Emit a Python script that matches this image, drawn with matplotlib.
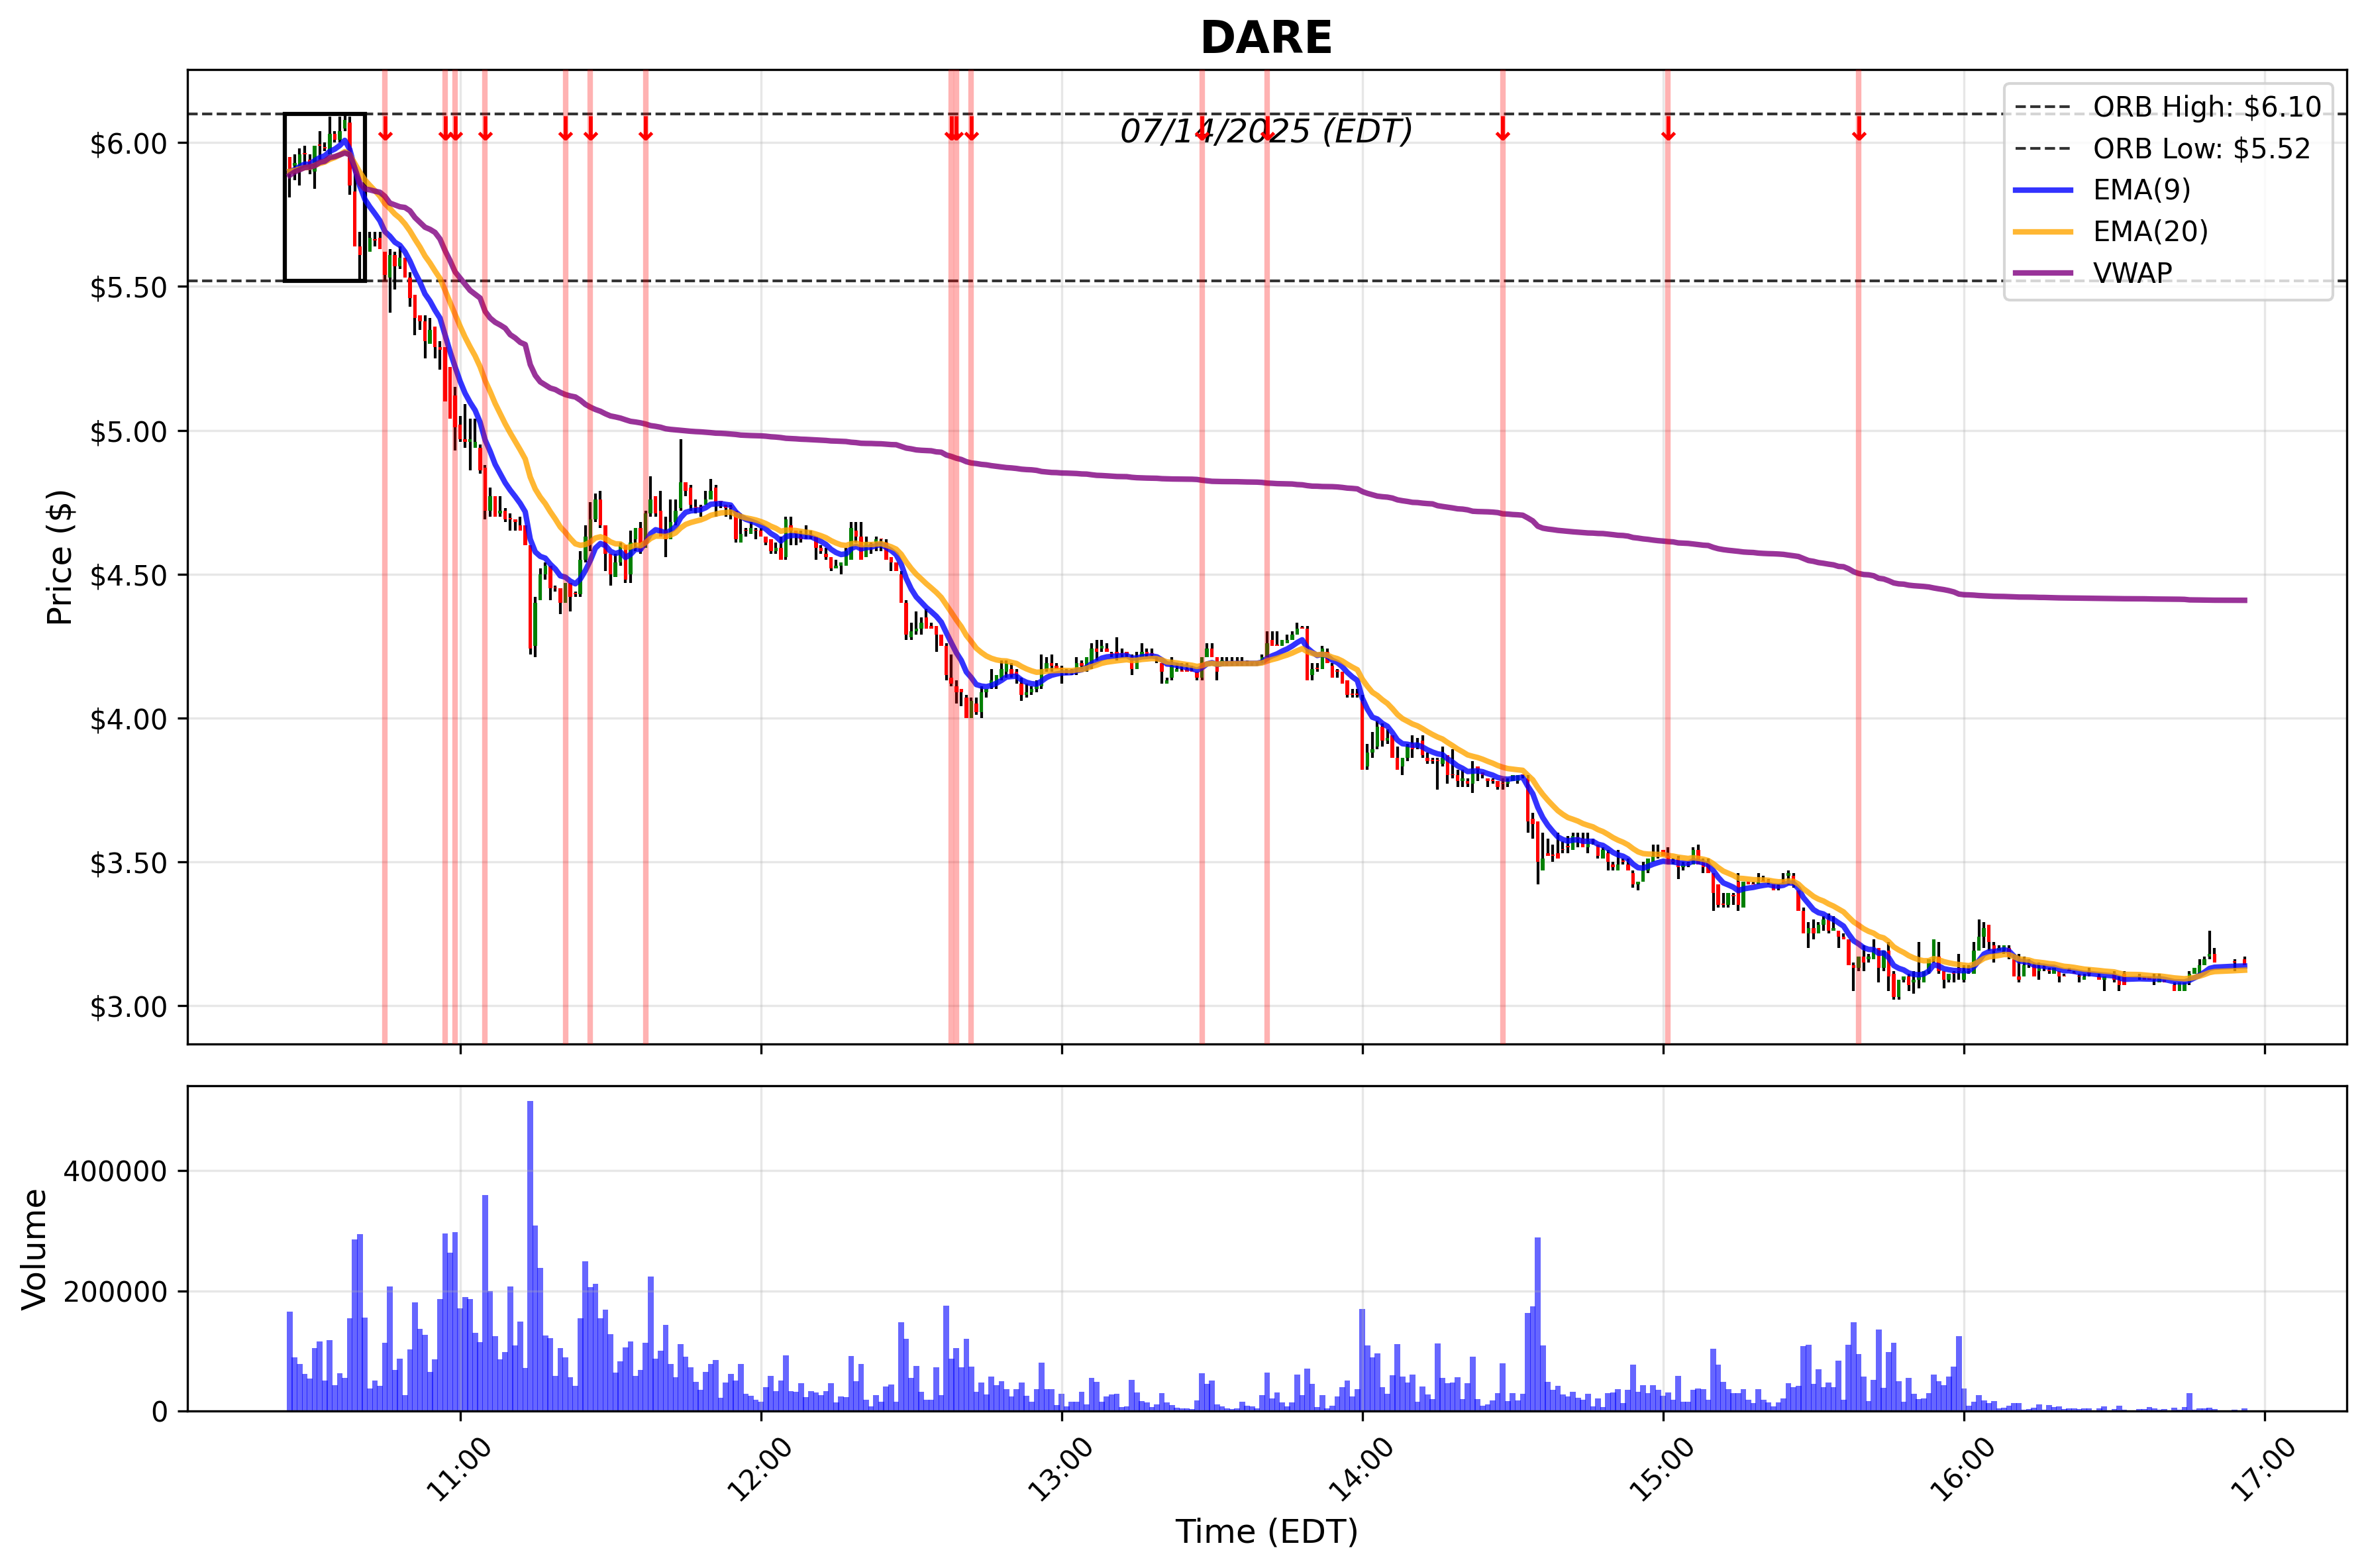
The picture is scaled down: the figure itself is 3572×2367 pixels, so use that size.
import matplotlib
matplotlib.use("Agg")
import matplotlib.pyplot as plt
import matplotlib.dates as mdates
from matplotlib.ticker import FuncFormatter, MultipleLocator
from matplotlib.patches import Rectangle
import numpy as np
import pandas as pd

# 1-minute bars, 07/14/2025, 10:26 -> 16:56 (a few quiet minutes near the close have no trades)
session = pd.date_range("2025-07-14 10:26", "2025-07-14 16:56", freq="min")
no_trade = ["16:26", "16:29", "16:33", "16:34", "16:41", "16:51", "16:52", "16:53", "16:55"]
times = session[~session.strftime("%H:%M").isin(no_trade)]

opens = [
    5.95, 5.92, 5.91, 5.96, 5.94, 5.90, 5.99, 5.98, 5.96, 6.03,
    6.01, 6.05, 6.07, 5.83, 5.64, 5.61, 5.62, 5.66, 5.67, 5.62,
    5.53, 5.61, 5.57, 5.60, 5.53, 5.47, 5.40, 5.38, 5.30, 5.36,
    5.29, 5.29, 5.22, 5.12, 5.02, 4.97, 4.96, 4.94, 4.94, 4.87,
    4.72, 4.77, 4.71, 4.72, 4.69, 4.69, 4.67, 4.67, 4.60, 4.25,
    4.41, 4.50, 4.53, 4.45, 4.45, 4.40, 4.47, 4.43, 4.43, 4.55,
    4.62, 4.69, 4.76, 4.67, 4.57, 4.49, 4.54, 4.60, 4.50, 4.62,
    4.66, 4.59, 4.71, 4.77, 4.72, 4.65, 4.62, 4.68, 4.73, 4.82,
    4.80, 4.73, 4.73, 4.74, 4.76, 4.80, 4.75, 4.74, 4.73, 4.72,
    4.61, 4.65, 4.64, 4.65, 4.65, 4.63, 4.62, 4.58, 4.59, 4.56,
    4.67, 4.65, 4.63, 4.62, 4.63, 4.63, 4.59, 4.57, 4.56, 4.52,
    4.53, 4.53, 4.55, 4.65, 4.63, 4.56, 4.60, 4.61, 4.62, 4.61,
    4.56, 4.54, 4.50, 4.40, 4.28, 4.30, 4.31, 4.35, 4.32, 4.32,
    4.29, 4.25, 4.14, 4.11, 4.10, 4.07, 4.00, 4.05, 4.02, 4.09,
    4.11, 4.12, 4.14, 4.16, 4.17, 4.16, 4.12, 4.08, 4.09, 4.10,
    4.11, 4.17, 4.19, 4.18, 4.17, 4.16, 4.16, 4.17, 4.19, 4.18,
    4.19, 4.24, 4.24, 4.24, 4.22, 4.23, 4.22, 4.23, 4.21, 4.17,
    4.21, 4.23, 4.22, 4.20, 4.19, 4.12, 4.14, 4.16, 4.16, 4.17,
    4.16, 4.16, 4.14, 4.21, 4.24, 4.21, 4.18, 4.19, 4.19, 4.19,
    4.19, 4.19, 4.19, 4.19, 4.20, 4.21, 4.27, 4.25, 4.25, 4.26,
    4.27, 4.29, 4.31, 4.31, 4.15, 4.17, 4.17, 4.23, 4.18, 4.16,
    4.16, 4.13, 4.08, 4.08, 4.06, 3.83, 3.88, 3.90, 3.97, 3.92,
    3.94, 3.86, 3.83, 3.86, 3.91, 3.90, 3.92, 3.86, 3.85, 3.85,
    3.84, 3.87, 3.80, 3.80, 3.78, 3.78, 3.77, 3.83, 3.81, 3.79,
    3.78, 3.78, 3.77, 3.77, 3.78, 3.78, 3.80, 3.79, 3.65, 3.64,
    3.47, 3.53, 3.52, 3.53, 3.54, 3.55, 3.54, 3.58, 3.58, 3.55,
    3.57, 3.56, 3.51, 3.53, 3.49, 3.47, 3.50, 3.49, 3.46, 3.42,
    3.43, 3.47, 3.50, 3.52, 3.54, 3.52, 3.50, 3.51, 3.48, 3.49,
    3.49, 3.54, 3.50, 3.50, 3.46, 3.42, 3.35, 3.35, 3.38, 3.43,
    3.34, 3.43, 3.42, 3.42, 3.43, 3.43, 3.42, 3.41, 3.43, 3.45,
    3.45, 3.40, 3.33, 3.25, 3.27, 3.25, 3.28, 3.30, 3.26, 3.26,
    3.24, 3.23, 3.14, 3.13, 3.17, 3.16, 3.16, 3.20, 3.13, 3.19,
    3.11, 3.03, 3.09, 3.10, 3.08, 3.09, 3.08, 3.12, 3.16, 3.17,
    3.12, 3.09, 3.11, 3.13, 3.09, 3.12, 3.11, 3.19, 3.24, 3.28,
    3.21, 3.19, 3.19, 3.20, 3.16, 3.10, 3.10, 3.14, 3.14, 3.12,
    3.13, 3.12, 3.11, 3.12, 3.10, 3.12, 3.11, 3.10, 3.09, 3.11,
    3.10, 3.09, 3.11, 3.09, 3.11, 3.10, 3.10, 3.10, 3.09, 3.08,
    3.09, 3.07, 3.05, 3.05, 3.08, 3.11, 3.11, 3.14, 3.17, 3.18,
    3.15, 3.16,
]
highs = [
    5.95, 5.96, 5.98, 5.99, 5.96, 5.99, 6.04, 6.00, 6.09, 6.04,
    6.09, 6.10, 6.09, 5.89, 5.69, 5.69, 5.69, 5.69, 5.69, 5.62,
    5.63, 5.62, 5.64, 5.60, 5.55, 5.47, 5.40, 5.40, 5.39, 5.36,
    5.31, 5.29, 5.22, 5.15, 5.05, 5.09, 5.04, 5.04, 4.95, 4.88,
    4.80, 4.77, 4.77, 4.73, 4.71, 4.69, 4.70, 4.67, 4.60, 4.42,
    4.52, 4.54, 4.53, 4.46, 4.45, 4.47, 4.47, 4.44, 4.58, 4.67,
    4.75, 4.78, 4.79, 4.67, 4.57, 4.57, 4.61, 4.60, 4.65, 4.66,
    4.68, 4.72, 4.84, 4.77, 4.79, 4.70, 4.76, 4.76, 4.97, 4.82,
    4.81, 4.76, 4.74, 4.79, 4.83, 4.81, 4.75, 4.74, 4.74, 4.72,
    4.71, 4.66, 4.68, 4.66, 4.66, 4.63, 4.62, 4.61, 4.63, 4.70,
    4.70, 4.65, 4.65, 4.67, 4.65, 4.63, 4.60, 4.59, 4.56, 4.55,
    4.54, 4.59, 4.68, 4.68, 4.68, 4.63, 4.61, 4.63, 4.62, 4.62,
    4.56, 4.54, 4.51, 4.41, 4.33, 4.37, 4.35, 4.38, 4.33, 4.32,
    4.29, 4.26, 4.22, 4.13, 4.10, 4.08, 4.07, 4.07, 4.11, 4.10,
    4.17, 4.15, 4.20, 4.20, 4.19, 4.17, 4.14, 4.12, 4.11, 4.13,
    4.22, 4.21, 4.22, 4.19, 4.18, 4.17, 4.17, 4.21, 4.20, 4.21,
    4.26, 4.27, 4.27, 4.26, 4.23, 4.28, 4.24, 4.23, 4.22, 4.23,
    4.26, 4.24, 4.24, 4.21, 4.19, 4.14, 4.21, 4.19, 4.19, 4.19,
    4.18, 4.16, 4.21, 4.26, 4.26, 4.21, 4.21, 4.21, 4.21, 4.21,
    4.21, 4.20, 4.19, 4.19, 4.22, 4.30, 4.30, 4.30, 4.27, 4.29,
    4.30, 4.33, 4.32, 4.32, 4.19, 4.19, 4.25, 4.24, 4.19, 4.17,
    4.16, 4.13, 4.10, 4.10, 4.08, 3.91, 3.95, 3.99, 3.98, 3.96,
    3.94, 3.90, 3.86, 3.91, 3.94, 3.93, 3.94, 3.88, 3.86, 3.86,
    3.90, 3.87, 3.89, 3.82, 3.82, 3.79, 3.85, 3.83, 3.81, 3.79,
    3.79, 3.78, 3.79, 3.79, 3.80, 3.80, 3.80, 3.80, 3.67, 3.64,
    3.60, 3.58, 3.56, 3.60, 3.57, 3.59, 3.60, 3.60, 3.60, 3.60,
    3.58, 3.56, 3.55, 3.54, 3.50, 3.54, 3.51, 3.51, 3.47, 3.43,
    3.50, 3.51, 3.56, 3.56, 3.54, 3.55, 3.51, 3.52, 3.50, 3.50,
    3.55, 3.56, 3.51, 3.51, 3.46, 3.42, 3.39, 3.39, 3.39, 3.46,
    3.43, 3.43, 3.43, 3.46, 3.45, 3.44, 3.42, 3.42, 3.46, 3.47,
    3.46, 3.40, 3.34, 3.29, 3.30, 3.29, 3.31, 3.32, 3.31, 3.26,
    3.25, 3.23, 3.15, 3.17, 3.21, 3.18, 3.23, 3.20, 3.19, 3.22,
    3.12, 3.09, 3.10, 3.11, 3.12, 3.22, 3.12, 3.16, 3.23, 3.22,
    3.12, 3.11, 3.12, 3.18, 3.14, 3.14, 3.22, 3.30, 3.29, 3.28,
    3.22, 3.21, 3.21, 3.21, 3.18, 3.18, 3.17, 3.16, 3.15, 3.15,
    3.14, 3.13, 3.13, 3.12, 3.11, 3.13, 3.12, 3.11, 3.11, 3.13,
    3.11, 3.10, 3.12, 3.10, 3.12, 3.11, 3.10, 3.10, 3.11, 3.11,
    3.09, 3.08, 3.08, 3.08, 3.12, 3.13, 3.16, 3.17, 3.26, 3.20,
    3.16, 3.17,
]
lows = [
    5.81, 5.87, 5.85, 5.92, 5.89, 5.84, 5.94, 5.97, 5.96, 6.00,
    6.00, 6.04, 5.82, 5.64, 5.52, 5.53, 5.62, 5.64, 5.63, 5.52,
    5.41, 5.49, 5.56, 5.53, 5.43, 5.33, 5.35, 5.25, 5.30, 5.25,
    5.21, 5.10, 5.04, 4.93, 4.96, 4.94, 4.86, 4.94, 4.85, 4.69,
    4.70, 4.70, 4.70, 4.68, 4.65, 4.65, 4.65, 4.60, 4.22, 4.21,
    4.41, 4.48, 4.41, 4.44, 4.36, 4.40, 4.37, 4.42, 4.42, 4.54,
    4.58, 4.68, 4.66, 4.51, 4.46, 4.49, 4.53, 4.47, 4.47, 4.58,
    4.57, 4.59, 4.70, 4.70, 4.63, 4.56, 4.62, 4.67, 4.72, 4.77,
    4.72, 4.71, 4.70, 4.74, 4.76, 4.70, 4.73, 4.70, 4.69, 4.61,
    4.61, 4.63, 4.64, 4.62, 4.63, 4.60, 4.57, 4.57, 4.55, 4.55,
    4.60, 4.60, 4.61, 4.62, 4.62, 4.55, 4.57, 4.55, 4.51, 4.52,
    4.50, 4.53, 4.55, 4.61, 4.55, 4.56, 4.57, 4.58, 4.58, 4.55,
    4.51, 4.51, 4.40, 4.27, 4.27, 4.29, 4.29, 4.31, 4.31, 4.23,
    4.25, 4.13, 4.11, 4.05, 4.04, 4.00, 4.00, 4.01, 4.00, 4.07,
    4.10, 4.10, 4.13, 4.14, 4.14, 4.12, 4.06, 4.07, 4.08, 4.09,
    4.10, 4.16, 4.16, 4.17, 4.12, 4.15, 4.15, 4.15, 4.17, 4.16,
    4.17, 4.20, 4.23, 4.23, 4.21, 4.20, 4.21, 4.21, 4.15, 4.17,
    4.21, 4.21, 4.21, 4.19, 4.12, 4.12, 4.13, 4.16, 4.16, 4.16,
    4.16, 4.13, 4.13, 4.21, 4.21, 4.13, 4.18, 4.18, 4.18, 4.18,
    4.18, 4.18, 4.18, 4.18, 4.19, 4.21, 4.25, 4.25, 4.25, 4.26,
    4.27, 4.29, 4.31, 4.13, 4.13, 4.16, 4.17, 4.19, 4.14, 4.14,
    4.12, 4.07, 4.07, 4.07, 3.82, 3.82, 3.86, 3.89, 3.90, 3.91,
    3.86, 3.82, 3.80, 3.85, 3.86, 3.89, 3.86, 3.84, 3.84, 3.75,
    3.83, 3.77, 3.79, 3.76, 3.76, 3.76, 3.74, 3.78, 3.79, 3.76,
    3.77, 3.75, 3.75, 3.76, 3.78, 3.77, 3.79, 3.60, 3.58, 3.42,
    3.47, 3.52, 3.50, 3.51, 3.53, 3.53, 3.54, 3.55, 3.55, 3.53,
    3.56, 3.51, 3.51, 3.47, 3.47, 3.47, 3.49, 3.47, 3.41, 3.40,
    3.43, 3.46, 3.50, 3.51, 3.52, 3.49, 3.49, 3.44, 3.47, 3.48,
    3.49, 3.49, 3.46, 3.46, 3.33, 3.34, 3.34, 3.34, 3.35, 3.33,
    3.34, 3.42, 3.42, 3.42, 3.43, 3.42, 3.40, 3.40, 3.42, 3.42,
    3.41, 3.33, 3.25, 3.20, 3.23, 3.25, 3.26, 3.25, 3.26, 3.20,
    3.23, 3.14, 3.05, 3.12, 3.12, 3.15, 3.16, 3.08, 3.12, 3.05,
    3.02, 3.02, 3.08, 3.05, 3.04, 3.06, 3.08, 3.11, 3.15, 3.11,
    3.06, 3.08, 3.08, 3.09, 3.08, 3.11, 3.11, 3.19, 3.20, 3.19,
    3.15, 3.19, 3.18, 3.16, 3.10, 3.08, 3.10, 3.13, 3.10, 3.09,
    3.12, 3.11, 3.11, 3.08, 3.10, 3.12, 3.11, 3.08, 3.09, 3.10,
    3.09, 3.05, 3.08, 3.05, 3.07, 3.09, 3.09, 3.09, 3.07, 3.08,
    3.08, 3.05, 3.05, 3.05, 3.07, 3.11, 3.11, 3.14, 3.16, 3.15,
    3.12, 3.14,
]
closes = [
    5.90, 5.93, 5.96, 5.96, 5.92, 5.99, 5.99, 5.98, 6.03, 6.01,
    6.04, 6.08, 5.85, 5.64, 5.61, 5.62, 5.67, 5.66, 5.63, 5.54,
    5.61, 5.57, 5.60, 5.53, 5.46, 5.39, 5.38, 5.31, 5.35, 5.29,
    5.28, 5.10, 5.04, 5.01, 4.97, 4.96, 4.97, 4.96, 4.86, 4.72,
    4.77, 4.70, 4.72, 4.69, 4.69, 4.68, 4.65, 4.60, 4.24, 4.40,
    4.50, 4.53, 4.45, 4.45, 4.40, 4.47, 4.42, 4.43, 4.55, 4.63,
    4.69, 4.76, 4.67, 4.57, 4.50, 4.54, 4.60, 4.48, 4.61, 4.66,
    4.58, 4.71, 4.76, 4.71, 4.63, 4.62, 4.68, 4.72, 4.82, 4.79,
    4.74, 4.73, 4.73, 4.76, 4.79, 4.75, 4.75, 4.73, 4.73, 4.62,
    4.64, 4.65, 4.66, 4.65, 4.63, 4.61, 4.58, 4.59, 4.55, 4.69,
    4.65, 4.64, 4.62, 4.62, 4.63, 4.59, 4.58, 4.56, 4.52, 4.53,
    4.54, 4.58, 4.66, 4.63, 4.55, 4.61, 4.60, 4.62, 4.62, 4.55,
    4.54, 4.51, 4.40, 4.29, 4.30, 4.31, 4.33, 4.31, 4.31, 4.29,
    4.25, 4.15, 4.12, 4.09, 4.09, 4.00, 4.06, 4.02, 4.09, 4.10,
    4.13, 4.15, 4.17, 4.19, 4.15, 4.15, 4.08, 4.09, 4.10, 4.11,
    4.17, 4.19, 4.18, 4.17, 4.17, 4.16, 4.16, 4.19, 4.18, 4.21,
    4.24, 4.23, 4.25, 4.23, 4.22, 4.22, 4.22, 4.22, 4.17, 4.21,
    4.23, 4.22, 4.22, 4.20, 4.16, 4.13, 4.18, 4.17, 4.16, 4.16,
    4.16, 4.14, 4.21, 4.24, 4.21, 4.16, 4.20, 4.19, 4.19, 4.19,
    4.19, 4.19, 4.19, 4.19, 4.21, 4.26, 4.25, 4.25, 4.27, 4.27,
    4.29, 4.31, 4.31, 4.13, 4.17, 4.17, 4.24, 4.19, 4.14, 4.16,
    4.12, 4.08, 4.08, 4.08, 3.82, 3.88, 3.89, 3.97, 3.92, 3.93,
    3.86, 3.82, 3.86, 3.90, 3.89, 3.91, 3.87, 3.85, 3.85, 3.85,
    3.86, 3.80, 3.80, 3.78, 3.79, 3.77, 3.82, 3.82, 3.80, 3.78,
    3.78, 3.76, 3.77, 3.78, 3.80, 3.80, 3.80, 3.64, 3.63, 3.50,
    3.51, 3.52, 3.52, 3.51, 3.54, 3.55, 3.59, 3.58, 3.55, 3.57,
    3.57, 3.52, 3.54, 3.50, 3.48, 3.49, 3.50, 3.47, 3.42, 3.43,
    3.47, 3.51, 3.52, 3.52, 3.52, 3.49, 3.50, 3.48, 3.49, 3.49,
    3.54, 3.49, 3.48, 3.46, 3.39, 3.35, 3.35, 3.39, 3.38, 3.35,
    3.43, 3.42, 3.42, 3.43, 3.43, 3.43, 3.40, 3.41, 3.43, 3.46,
    3.42, 3.33, 3.25, 3.27, 3.25, 3.28, 3.30, 3.26, 3.27, 3.24,
    3.23, 3.14, 3.13, 3.17, 3.15, 3.17, 3.19, 3.13, 3.19, 3.10,
    3.03, 3.09, 3.10, 3.07, 3.09, 3.10, 3.12, 3.16, 3.23, 3.12,
    3.09, 3.11, 3.11, 3.12, 3.12, 3.12, 3.19, 3.24, 3.27, 3.22,
    3.19, 3.20, 3.21, 3.17, 3.10, 3.09, 3.14, 3.14, 3.10, 3.13,
    3.13, 3.12, 3.13, 3.10, 3.10, 3.12, 3.11, 3.10, 3.10, 3.11,
    3.09, 3.10, 3.09, 3.07, 3.07, 3.10, 3.09, 3.09, 3.09, 3.10,
    3.08, 3.05, 3.08, 3.08, 3.11, 3.13, 3.14, 3.16, 3.18, 3.15,
    3.15, 3.14,
]
volumes_k = [
    166, 89, 78, 62, 54, 105, 116, 51, 118, 43,
    63, 55, 154, 286, 295, 156, 38, 51, 42, 114,
    208, 69, 87, 27, 103, 181, 137, 127, 65, 86,
    187, 296, 264, 298, 171, 190, 186, 130, 115, 360,
    200, 125, 86, 98, 207, 109, 149, 72, 516, 309,
    238, 126, 121, 59, 105, 89, 56, 42, 155, 249,
    206, 212, 155, 169, 128, 64, 83, 106, 116, 58,
    69, 114, 224, 87, 101, 143, 78, 56, 111, 91,
    73, 49, 35, 65, 78, 85, 22, 47, 62, 51,
    78, 29, 25, 19, 15, 40, 59, 33, 51, 93,
    33, 32, 46, 23, 33, 31, 26, 33, 46, 14,
    24, 23, 92, 50, 78, 19, 8, 26, 15, 41,
    44, 15, 148, 120, 55, 75, 32, 19, 19, 73,
    26, 175, 87, 105, 73, 120, 74, 32, 48, 28,
    57, 43, 50, 37, 24, 36, 47, 25, 16, 36,
    81, 37, 36, 10, 29, 8, 16, 15, 32, 11,
    55, 49, 16, 24, 28, 29, 7, 8, 52, 31,
    17, 14, 7, 11, 30, 14, 10, 6, 5, 5,
    3, 18, 63, 45, 51, 11, 8, 4, 3, 5,
    15, 9, 8, 5, 26, 64, 21, 31, 14, 8,
    14, 61, 26, 71, 45, 7, 27, 4, 9, 24,
    40, 51, 24, 36, 170, 109, 89, 96, 40, 29,
    60, 111, 57, 48, 61, 15, 41, 28, 20, 113,
    55, 46, 48, 56, 20, 46, 90, 20, 9, 11,
    18, 30, 79, 17, 30, 18, 29, 163, 174, 289,
    109, 49, 35, 42, 28, 24, 32, 22, 19, 29,
    8, 21, 7, 30, 31, 36, 13, 35, 77, 32,
    43, 30, 43, 35, 25, 31, 19, 58, 15, 15,
    35, 38, 36, 19, 104, 77, 49, 37, 30, 30,
    37, 19, 13, 36, 19, 14, 8, 14, 21, 46,
    40, 42, 108, 110, 45, 70, 40, 48, 40, 84,
    19, 110, 148, 95, 57, 17, 52, 136, 39, 98,
    114, 50, 16, 55, 29, 20, 21, 30, 61, 50,
    43, 57, 74, 125, 38, 9, 16, 27, 18, 13,
    17, 5, 6, 9, 13, 13, 2, 3, 6, 11,
    2, 10, 7, 8, 3, 4, 5, 3, 4, 4,
    5, 8, 3, 9, 2, 3, 3, 7, 5, 2,
    3, 6, 2, 7, 30, 2, 5, 5, 6, 3,
    2, 4,
]

orb_high = 6.10
orb_low = 5.52
orb_start = "2025-07-14 10:25"
orb_end = "2025-07-14 10:41"
signals = ["10:45", "10:57", "10:59", "11:05", "11:21", "11:26", "11:37",
           "12:38", "12:39", "12:42", "13:28", "13:41", "14:28", "15:01", "15:39"]

df = pd.DataFrame({"open": opens, "high": highs, "low": lows, "close": closes,
                   "volume": np.array(volumes_k) * 1000}, index=times)

# indicators
ema9 = df["close"].ewm(span=9, adjust=False).mean()
ema20 = df["close"].ewm(span=20, adjust=False).mean()
typical = (df["high"] + df["low"] + df["close"]) / 3
vwap = (typical * df["volume"]).cumsum() / df["volume"].cumsum()

fig = plt.figure(figsize=(3572 / 300, 2367 / 300), dpi=300)
ax1 = fig.add_axes([0.0792, 0.3342, 0.9127, 0.6214])
ax2 = fig.add_axes([0.0792, 0.1001, 0.9127, 0.2075], sharex=ax1)

# candles
x = mdates.date2num(df.index.to_pydatetime())
up = df["close"] > df["open"]
colors = np.where(up, "green", "red")
body_bottom = np.minimum(df["open"], df["close"])
body_height = np.maximum((df["close"] - df["open"]).abs(), 0.004)
ax1.vlines(x, df["low"], df["high"], color="black", linewidth=1, zorder=2)
ax1.bar(x, body_height, width=0.0005, bottom=body_bottom, color=colors, zorder=3)

# opening range
ax1.axhline(orb_high, color="black", linestyle="--", linewidth=1, alpha=0.8,
            label=f"ORB High: ${orb_high:.2f}")
ax1.axhline(orb_low, color="black", linestyle="--", linewidth=1, alpha=0.8,
            label=f"ORB Low: ${orb_low:.2f}")
x0 = mdates.date2num(pd.Timestamp(orb_start))
x1 = mdates.date2num(pd.Timestamp(orb_end))
ax1.add_patch(Rectangle((x0, orb_low), x1 - x0, orb_high - orb_low,
                        fill=False, edgecolor="black", linewidth=1.5, zorder=4))

ax1.plot(df.index, ema9, color="blue", linewidth=2, alpha=0.8, label="EMA(9)", zorder=5)
ax1.plot(df.index, ema20, color="orange", linewidth=2, alpha=0.8, label="EMA(20)", zorder=5)
ax1.plot(df.index, vwap, color="purple", linewidth=2, alpha=0.8, label="VWAP", zorder=5)

# short signals
for s in signals:
    t = pd.Timestamp("2025-07-14 " + s)
    ax1.axvline(t, color="red", alpha=0.3, linewidth=2, zorder=6)
    ax1.text(t, 6.04, "\u2193", color="red", fontsize=12, fontweight="bold",
             ha="center", va="center", zorder=7)

ax1.text(0.5, 0.935, "07/14/2025 (EDT)", transform=ax1.transAxes,
         ha="center", va="center", fontsize=12, style="italic")

ax1.set_title("DARE", fontsize=16, fontweight="bold")
ax1.set_ylabel("Price ($)", fontsize=12)
ax1.yaxis.set_major_locator(MultipleLocator(0.5))
ax1.yaxis.set_major_formatter(FuncFormatter(lambda v, p: f"${v:.2f}"))
ax1.set_ylim(2.866, 6.254)
ax1.grid(True, alpha=0.3)
ax1.legend(loc="upper right", fontsize=10)
plt.setp(ax1.get_xticklabels(), visible=False)

# volume
ax2.bar(df.index, df["volume"], width=0.0008, color="blue", alpha=0.6)
ax2.set_ylabel("Volume", fontsize=12)
ax2.set_xlabel("Time (EDT)", fontsize=12)
ax2.yaxis.set_major_locator(MultipleLocator(200000))
ax2.grid(True, alpha=0.3)

ax2.xaxis.set_major_locator(mdates.HourLocator())
ax2.xaxis.set_major_formatter(mdates.DateFormatter("%H:%M"))
ax2.set_xlim(df.index[0] - pd.Timedelta(minutes=20.4), df.index[-1] + pd.Timedelta(minutes=20.4))
plt.setp(ax2.get_xticklabels(), rotation=45)

fig.savefig("out.png", dpi=300)
